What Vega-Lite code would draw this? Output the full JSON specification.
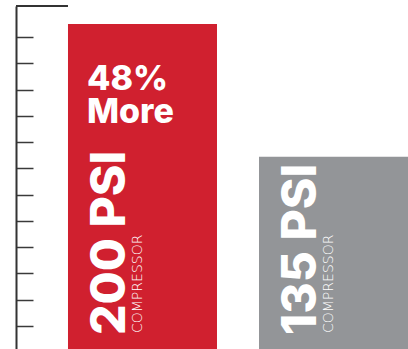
{
  "$schema": "https://vega.github.io/schema/vega-lite/v6.json",
  "width": 392,
  "height": 343,
  "autosize": "none",
  "padding": {"left": 16, "top": 6, "right": 0, "bottom": 0},
  "background": "white",
  "config": {"view": {"stroke": null}},
  "data": {"values": [
    {"compressor": "200 PSI", "psi": 200, "note": "48%\nMore"},
    {"compressor": "135 PSI", "psi": 135, "note": ""}
  ]},
  "encoding": {
    "x": {"field": "compressor", "type": "nominal", "sort": null, "axis": null,
      "scale": {"domain": ["200 PSI", "135 PSI"], "paddingInner": 0.2199, "paddingOuter": 0.1361, "align": 1}}
  },
  "layer": [
    {
      "layer": [
        {
          "mark": {"type": "bar"},
          "encoding": {
            "y": {"field": "psi", "type": "quantitative", "axis": null,
              "scale": {"domain": [40.8, 208.82], "zero": false, "nice": false}},
            "color": {"field": "compressor", "type": "nominal", "legend": null,
              "scale": {"domain": ["200 PSI", "135 PSI"], "range": ["#D0202F", "#939598"]}}
          }
        },
        {
          "mark": {"type": "text", "align": "left", "baseline": "alphabetic", "dx": 19, "dy": 66,
            "font": "Inter", "fontWeight": 800, "fontSize": 34, "lineHeight": 33, "lineBreak": "\n", "color": "white"},
          "encoding": {
            "x": {"field": "compressor", "type": "nominal", "bandPosition": 0},
            "y": {"field": "psi", "type": "quantitative"},
            "text": {"field": "note"}
          }
        },
        {
          "mark": {"type": "text", "angle": 270, "align": "left", "baseline": "alphabetic", "dx": 14, "dy": 57,
            "font": "Inter", "fontWeight": 800, "fontSize": 48, "color": "white"},
          "encoding": {
            "x": {"field": "compressor", "type": "nominal", "bandPosition": 0},
            "y": {"value": "height"},
            "text": {"field": "compressor"}
          }
        },
        {
          "mark": {"type": "text", "angle": 270, "align": "left", "baseline": "alphabetic", "dx": 16, "dy": 74,
            "font": "DejaVu Sans", "fontWeight": 300, "fontSize": 14, "letterSpacing": 0.5, "color": "white"},
          "encoding": {
            "x": {"field": "compressor", "type": "nominal", "bandPosition": 0},
            "y": {"value": "height"},
            "text": {"value": "COMPRESSOR"}
          }
        }
      ]
    },
    {
      "data": {"values": [{"top": 13.182}]},
      "mark": {"type": "rule", "color": "#333333", "strokeWidth": 2},
      "encoding": {
        "x": {"datum": "200 PSI", "bandPosition": 0},
        "x2": {"value": 0},
        "y": {"field": "top", "type": "quantitative",
          "scale": {"domain": [0.1256, 13.182], "zero": false, "nice": false},
          "axis": {"orient": "left", "values": [1, 2, 3, 4, 5, 6, 7, 8, 9, 10, 11, 12], "labels": false, "title": null, "grid": false,
            "domainColor": "#333333", "domainWidth": 2, "tickColor": "#3a3a3a", "tickWidth": 1.5, "tickSize": -17}}
      }
    }
  ],
  "resolve": {"scale": {"y": "independent"}}
}
